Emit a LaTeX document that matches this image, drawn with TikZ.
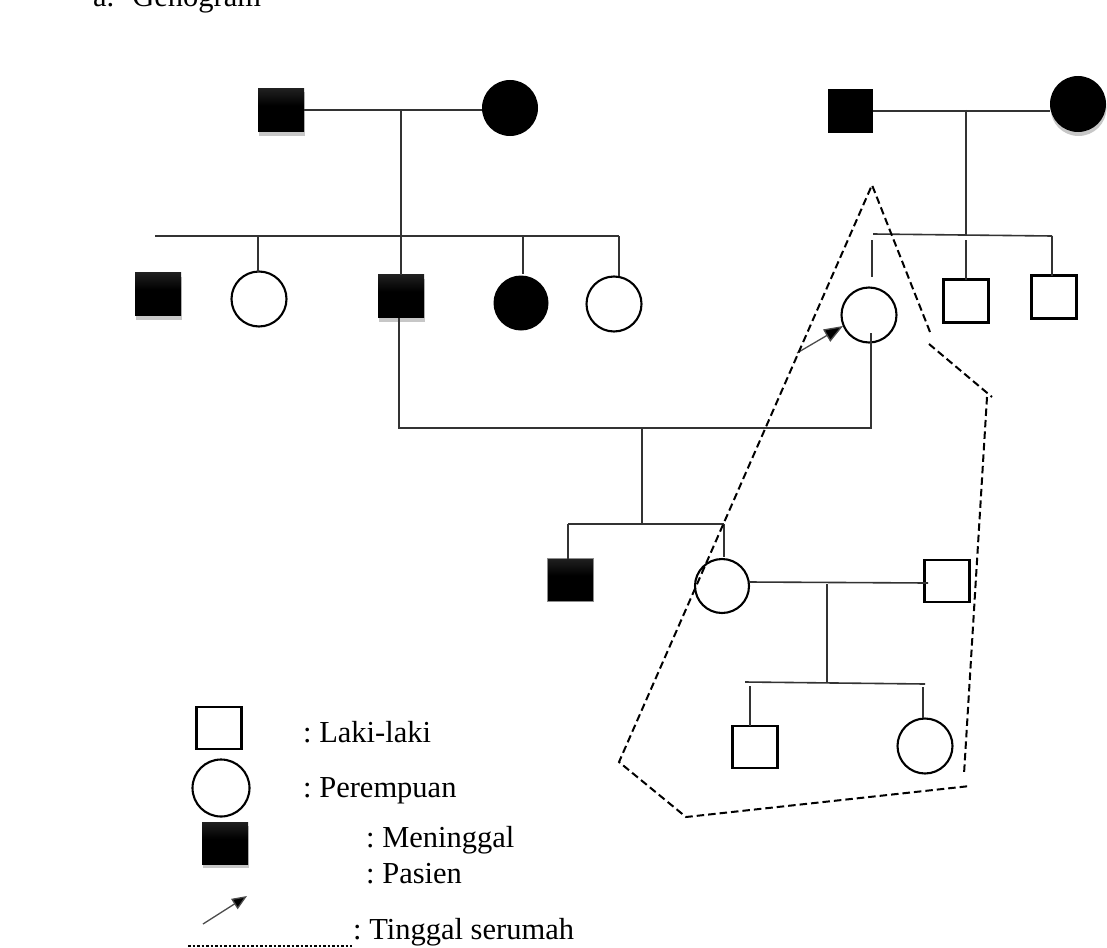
\documentclass[tikz,border=0pt]{standalone}
\usepackage{fontspec}
\setmainfont{Liberation Serif}
\usetikzlibrary{shadows,arrows.meta}
\frenchspacing
\pgfdeclareverticalshading{deadshade}{100bp}{color(0bp)=(black); color(55bp)=(black); color(100bp)=(black!72)}
\tikzset{
  link/.style={draw=black!80, line width=1.6pt},
  base/.style={inner sep=0pt, outer sep=0pt, line width=2.1pt, draw=black},
  male/.style={base, rectangle, minimum width=45pt, minimum height=43pt, fill=white},
  female/.style={base, circle, minimum size=55pt, fill=white},
  deadm/.style={rectangle, inner sep=0pt, outer sep=0pt, minimum width=46pt, minimum height=43pt, shading=deadshade},
  deadmplain/.style={rectangle, inner sep=0pt, outer sep=0pt, minimum width=45pt, minimum height=43pt, fill=black},
  deadf/.style={circle, inner sep=0pt, outer sep=0pt, minimum size=56pt, fill=black},
  shad/.style={drop shadow={shadow xshift=0.5pt, shadow yshift=-4pt, fill=black, opacity=0.22}},
  house/.style={line width=2pt, dash pattern=on 7.5pt off 4pt},
  txt/.style={anchor=base west, inner sep=0pt, font=\fontsize{30.5}{36}\selectfont},
  pointer/.style={draw=black!70, line width=1.3pt, -{Triangle[length=19pt,width=14pt,fill=black]}},
}
\begin{document}
\begin{tikzpicture}[x=1pt,y=-1pt]
\useasboundingbox (0,0) rectangle (1107,947);

% title
\node[txt] (title) at (93,7) {a.\hspace{18pt}Genogram};

% ---------- Generation 1, left
\node[deadm, shad] (A) at (281,110) {};
\node[deadf] (B) at (510,108) {};
\draw[link] (A.east) -- (B.west |- A.east);
\coordinate (m1) at (401,110);
\coordinate (s1l) at (155,236);
\coordinate (s1r) at (619,236);
\coordinate (s1m) at (401,236);
\draw[link] (s1l) -- (s1r);

% ---------- Generation 2, left
\node[deadm, shad] (C1) at (158,294) {};
\node[female] (C2) at (259,299) {};
\node[deadm, shad] (C3) at (401,296) {};
\node[deadf, minimum size=55pt] (C4) at (521,303) {};
\node[female] (C5) at (614,304) {};
\coordinate (c2t) at (258,236);
\coordinate (c4t) at (523,236);
\coordinate (c4b) at (523,274);
\coordinate (c5b) at (619,276);
\draw[link] (m1) -- (s1m) -- (C3.north);
\draw[link] (c2t) -- (c2t |- C2.north);
\draw[link] (c4t) -- (c4b);
\draw[link] (s1r) -- (c5b);

% ---------- Generation 1, right
\node[deadmplain] (D) at (850,111) {};
\node[deadf, shad] (E) at (1078,104) {};
\draw[link] (D.east) -- (E.west |- D.east);
\coordinate (m2) at (966,110);
\coordinate (s2m) at (966,235);
\coordinate (s2l) at (873,234);
\coordinate (s2r) at (1052,236);
\draw[link] (m2) -- (s2m);
\draw[link] (s2l) -- (s2r);

% ---------- Generation 2, right
\node[female] (F) at (869,315) {};
\node[male] (G) at (966,301) {};
\node[male] (H) at (1054,297) {};
\coordinate (ft) at (872,240);
\coordinate (fb) at (872,277);
\draw[link] (ft) -- (fb);
\coordinate (gt) at (966,240);
\draw[link] (gt) -- (G.north);
\draw[link] (s2r) -- (s2r |- H.north);
\coordinate (ptail) at (797,353);
\coordinate (phead) at (843,326);
\draw[pointer] (ptail) -- (phead);

% marriage of C3 and F
\coordinate (fbot) at (871,333);
\coordinate (mlr) at (871,428);
\coordinate (mll) at (399,428);
\coordinate (m3) at (642,428);
\draw[link] (C3.south -| mll) -- (mll) -- (mlr) -- (fbot);

% ---------- Generation 3
\node[deadm, draw=black!45, line width=0.8pt] (I) at (570,580) {};
\node[female, minimum size=54pt] (J) at (722,586) {};
\node[male, minimum height=42pt] (K) at (947,581) {};
\coordinate (s3l) at (568,524);
\coordinate (s3r) at (724,524);
\coordinate (s3m) at (642,524);
\coordinate (jt) at (724,557);
\draw[link] (m3) -- (s3m);
\draw[link] (s3l) -- (s3r);
\draw[link] (s3l) -- (I.north -| s3l);
\draw[link] (s3r) -- (jt);
\coordinate (kw) at (928,583);
\draw[link] (J.east |- 0,582) -- (kw);

% ---------- Generation 4
\node[male, minimum height=42pt] (L) at (755,747) {};
\node[female] (M) at (925,746) {};
\coordinate (m4) at (827,584);
\coordinate (s4m) at (827,682);
\coordinate (s4l) at (745,682);
\coordinate (s4r) at (925,684);
\draw[link] (m4) -- (s4m);
\draw[link] (s4l) -- (s4r);
\coordinate (lt) at (750,686);
\coordinate (lb) at (750,726);
\draw[link] (lt) -- (lb);
\coordinate (mt) at (923,687);
\coordinate (mb) at (923,718);
\draw[link] (mt) -- (mb);

% ---------- household boundary
\coordinate (h1) at (930,332);
\coordinate (h2) at (872,185);
\coordinate (h3) at (619,762);
\coordinate (h4) at (686,817);
\coordinate (h5) at (970,786);
\coordinate (h6) at (929,344);
\coordinate (h7) at (992,397);
\coordinate (h8) at (987,397);
\coordinate (h9) at (964,774);
\draw[house] (h1) -- (h2) -- (h3) -- (h4) -- (h5);
\draw[house] (h6) -- (h7);
\draw[house] (h8) -- (h9);

% ---------- legend
\node[male, minimum height=42pt] (LS) at (219,728) {};
\node[female, minimum width=55pt, minimum height=57pt] (LC) at (221,788) {};
\node[deadm, minimum height=42pt, shad] (LD) at (225,843) {};
\node[txt] (t1) at (303,742) {: Laki-laki};
\node[txt] (t2) at (303,797) {: Perempuan};
\node[txt] (t3) at (366,847) {: Meninggal};
\node[txt] (t4) at (366,883) {: Pasien};
\node[txt] (t5) at (353,939) {: Tinggal serumah};
\coordinate (la1) at (203,924);
\coordinate (la2) at (247,896);
\draw[pointer, -{Triangle[length=15pt,width=12pt,fill=black]}] (la1) -- (la2);
\coordinate (ld1) at (188,946);
\coordinate (ld2) at (352,946);
\draw[line width=1.6pt, dash pattern=on 2.5pt off 2pt] (ld1) -- (ld2);
\end{tikzpicture}
\end{document}
